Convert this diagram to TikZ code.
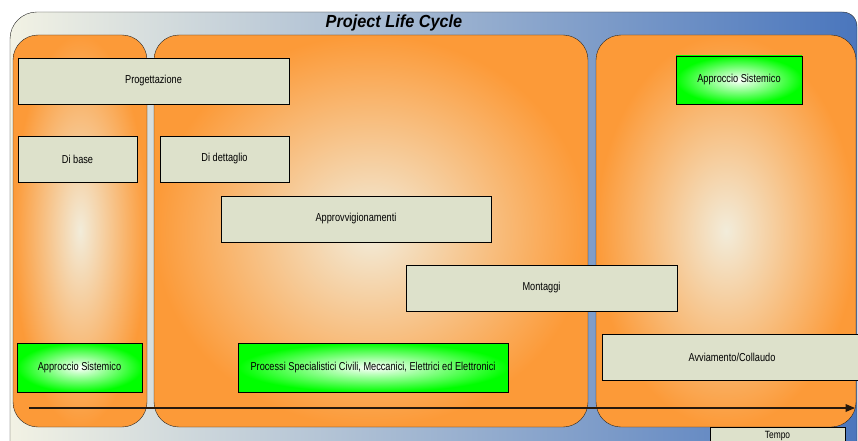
\documentclass[tikz,border=0pt]{standalone}
\usepackage{fontspec}
\setmainfont[FakeStretch=0.8]{Liberation Sans}
\newfontfamily\titlefont[FakeStretch=0.93]{Liberation Sans}
\usetikzlibrary{arrows}

\definecolor{frameleft}{HTML}{F2F2E4}
\definecolor{frameright}{HTML}{4A76BD}
\definecolor{panelorange}{HTML}{FC9A38}
\definecolor{panelcream}{HTML}{F2ECDA}
\definecolor{boxbeige}{HTML}{DDE1CB}
\definecolor{boxgreen}{HTML}{00FF00}

\begin{document}
\begin{tikzpicture}[x=1pt,y=-1pt,
        frame/.style={draw=black!85, left color=frameleft, right color=frameright},
        panel/.style={draw=black!85, rounded corners=25pt, inner color=panelcream, outer color=panelorange},
        phase/.style={draw=black, fill=boxbeige, inner sep=0pt, font=\fontsize{11.5}{13}\selectfont},
        method/.style={draw=black, inner color=white, outer color=boxgreen, inner sep=0pt, font=\fontsize{11.5}{13}\selectfont},
        timeline/.style={draw=black!80!brown, line width=1.2pt, -triangle 45}]
        \useasboundingbox (0,0) rectangle (858,441);
        \clip (0,0) rectangle (858,441);

        \draw[frame] (10,470) -- (10,39) .. controls (10,24) and (22,12) .. (37,12)
                     -- (842,12) .. controls (851,12) and (857,18) .. (857,27)
                     -- (857,470) -- cycle;
        \node[font=\titlefont\fontsize{17.5}{19}\selectfont\bfseries\itshape] (title) at (394,23) {Project Life Cycle};

        \draw[panel] (13,35) rectangle (147,427);
        \draw[panel] (154,35) rectangle (588,427);
        \draw[panel] (596,35) rectangle (856,427);

        \node[phase, minimum width=271, minimum height=46] (P) at (153.5,81) {Progettazione};
        \node[phase, minimum width=119, minimum height=46] (B) at (77.5,159) {Di base};
        \node[phase, minimum width=129, minimum height=46] (D) at (224.5,159) {Di dettaglio};
        \node[phase, minimum width=270, minimum height=46] (A) at (356,219) {Approvvigionamenti};
        \node[phase, minimum width=271, minimum height=46] (M) at (541.5,288) {Montaggi};
        \node[phase, minimum width=260, minimum height=46] (C) at (732,357) {Avviamento/Collaudo};

        \node[method, minimum width=125, minimum height=49] (S1) at (79.5,367.5) {Approccio Sistemico};
        \node[method, minimum width=270, minimum height=49] (S2) at (373,367.5) {Processi Specialistici Civili, Meccanici, Elettrici ed Elettronici};
        \node[method, minimum width=126, minimum height=48] (S3) at (739,80) {Approccio Sistemico};

        \coordinate (start) at (29,408);
        \coordinate (end) at (855,408);
        \draw[timeline] (start) -- (end);
        \node[phase, minimum width=135, minimum height=17, font=\fontsize{10.5}{12}\selectfont] (T) at (777.5,435.5) {Tempo};
    \end{tikzpicture}
\end{document}
